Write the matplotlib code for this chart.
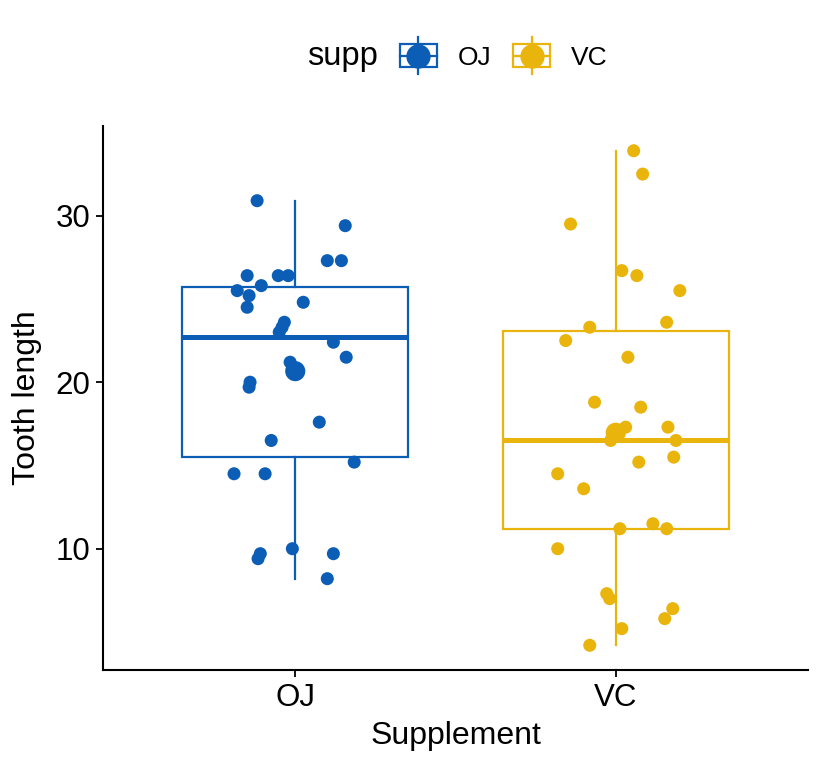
import matplotlib
matplotlib.use("Agg")
import matplotlib.pyplot as plt
import numpy as np
from matplotlib.legend_handler import HandlerBase
from matplotlib.patches import Rectangle
from matplotlib.lines import Line2D

plt.rcParams['font.family'] = ['Liberation Sans', 'DejaVu Sans']

categories = ["OJ", "VC"]
colors = ["#0C5DB5", "#E9B40B"]

oj_len = [30.9, 29.4, 27.3, 27.3, 26.4, 26.4, 26.4, 25.8, 25.5, 25.2, 24.8, 24.5,
          23.6, 23.3, 23.0, 22.4, 21.5, 21.2, 20.0, 19.7, 17.6, 16.5, 15.2, 14.5,
          14.5, 10.0, 9.7, 9.7, 9.4, 8.2]
oj_jitter = [-0.119, 0.156, 0.100, 0.144, -0.150, -0.053, -0.022, -0.106, -0.181, -0.144,
             0.025, -0.150, -0.034, -0.041, -0.050, 0.119, 0.159, -0.016, -0.141, -0.144,
             0.075, -0.075, 0.184, -0.191, -0.094, -0.009, -0.109, 0.119, -0.116, 0.100]
vc_len = [33.9, 32.5, 29.5, 26.7, 26.4, 25.5, 23.6, 23.3, 22.5, 21.5, 18.8, 18.5,
          17.3, 17.3, 16.5, 16.5, 15.5, 15.2, 14.5, 13.6, 11.5, 11.2, 11.2, 10.0,
          7.3, 7.0, 6.4, 5.8, 5.2, 4.2]
vc_jitter = [0.056, 0.084, -0.141, 0.019, 0.066, 0.200, 0.159, -0.081, -0.156, 0.038,
             -0.066, 0.078, 0.031, 0.163, -0.016, 0.188, 0.181, 0.072, -0.181, -0.100,
             0.116, 0.013, 0.159, -0.181, -0.028, -0.019, 0.178, 0.153, 0.019, -0.081]

data = [oj_len, vc_len]
jitters = [oj_jitter, vc_jitter]
yticks = [10, 20, 30]

fig = plt.figure(figsize=(8.25, 7.68), dpi=100)
ax = fig.add_axes([0.1248, 0.1276, 0.8546, 0.7083])

for i, (vals, jit, col) in enumerate(zip(data, jitters, colors)):
    pos = i + 1
    ax.boxplot([vals], positions=[pos], widths=0.706, showfliers=False,
               whis=1.5, patch_artist=True,
               boxprops=dict(facecolor="none", edgecolor=col, linewidth=1.6),
               whiskerprops=dict(color=col, linewidth=1.6),
               capprops=dict(linewidth=0),
               medianprops=dict(color=col, linewidth=3.6), zorder=2)
    ax.scatter(pos + np.array(jit), vals, s=88, color=col, edgecolors="none", zorder=3)
    ax.scatter([pos], [np.mean(vals)], s=210, color=col, edgecolors="none", zorder=4)

ax.set_xlim(0.4, 2.6)
ax.set_ylim(2.715, 35.385)
ax.set_xticks([1, 2])
ax.set_xticklabels(categories)
ax.set_yticks(yticks)
ax.tick_params(labelsize=22.5, width=1.3, length=5, color="black", labelcolor="black", pad=4)
for s in ["top", "right"]:
    ax.spines[s].set_visible(False)
for s in ["left", "bottom"]:
    ax.spines[s].set_linewidth(1.5)
ax.set_xlabel("Supplement", fontsize=23, labelpad=6)
ax.set_ylabel("Tooth length", fontsize=23, labelpad=10)


class HandlerBoxPoint(HandlerBase):
    def create_artists(self, legend, orig_handle, xdescent, ydescent, width, height, fontsize, trans):
        col = orig_handle.get_color()
        cx = width / 2 - xdescent
        cy = height / 2 - ydescent
        bw, bh = width, 16.6
        rect = Rectangle((cx - bw / 2, cy - bh / 2), bw, bh, facecolor="none",
                         edgecolor=col, linewidth=1.6, transform=trans)
        hline = Line2D([cx - bw / 2, cx + bw / 2], [cy, cy], color=col, lw=1.6, transform=trans)
        vline = Line2D([cx, cx], [cy - 13.3, cy + 13.3], color=col, lw=1.6, transform=trans)
        dot = Line2D([cx], [cy], marker="o", markersize=16.5, color=col, lw=0, transform=trans)
        return [rect, hline, vline, dot]


handles = [Line2D([], [], color=c) for c in colors]
fig.text(343 / 825, 1 - 57 / 768, "supp", fontsize=23.5, ha="center", va="center")
leg = fig.legend(handles, categories, handler_map={Line2D: HandlerBoxPoint()},
                 loc="center left", bbox_to_anchor=(376 / 825, 1 - 58 / 768),
                 ncol=2, frameon=False, fontsize=19, handlelength=1.4,
                 handleheight=0.7, columnspacing=0.83, handletextpad=0.8)

fig.savefig("out.png", dpi=100)
